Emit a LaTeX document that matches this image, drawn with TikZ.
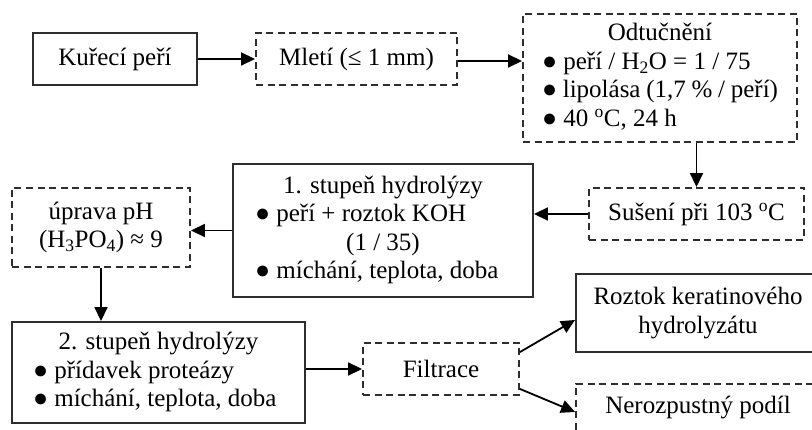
\documentclass[tikz,border=0pt]{standalone}
\usepackage{fontspec}
\setmainfont{Liberation Serif}
\usetikzlibrary{arrows.meta}
\definecolor{boxgray}{HTML}{2E2E2E}
\newcommand\fs{\fontsize{25}{28.5}\selectfont}
\begin{document}
\begin{tikzpicture}[x=1pt,y=-1pt,
  box/.style={draw=boxgray, line width=1.9pt, inner sep=0pt, align=center, font=\fs},
  dbox/.style={box, dash pattern=on 7pt off 4.5pt},
  arr/.style={line width=1.8pt, -{Triangle[length=14pt,width=13pt]}},
]
\useasboundingbox (0,0) rectangle (812,430);
\clip (0,0) rectangle (812,430);
\node[box, minimum width=164pt, minimum height=52pt] (kur) at (115,59) {Kuřecí peří};
\node[dbox, minimum width=201pt, minimum height=52pt] (mle) at (356.5,59) {Mletí (≤ 1 mm)};
\node[dbox, minimum width=274pt, minimum height=128pt] (odt) at (660,78) {\begin{tabular}{@{}p{236pt}@{}}\multicolumn{1}{@{}c@{}}{Odtučnění}\\ ● peří / H\textsubscript{2}O = 1 / 75\\ ● lipolása (1,7 \% / peří)\\ ● 40 \textsuperscript{o}C, 24 h\end{tabular}};
\node[dbox, minimum width=215pt, minimum height=52pt] (sus) at (696.5,214) {Sušení při 103 \textsuperscript{o}C};
\node[box, minimum width=300pt, minimum height=133pt] (h1) at (383,230.5) {\begin{tabular}{@{}p{256pt}@{}}\multicolumn{1}{@{}c@{}}{1. stupeň hydrolýzy}\\ ● peří + roztok KOH\\ \multicolumn{1}{@{}c@{}}{(1 / 35)}\\ ● míchání, teplota, doba\end{tabular}};
\node[dbox, minimum width=178pt, minimum height=79pt] (ph) at (101,227.5) {úprava pH\\(H\textsubscript{3}PO\textsubscript{4}) ≈ 9};
\node[box, minimum width=293pt, minimum height=101pt] (h2) at (158.5,372.5) {\begin{tabular}{@{}p{251pt}@{}}\multicolumn{1}{@{}c@{}}{2. stupeň hydrolýzy}\\ ● přídavek proteázy\\ ● míchání, teplota, doba\end{tabular}};
\node[dbox, minimum width=156pt, minimum height=52pt] (fil) at (441,369) {Filtrace};
\node[box, minimum width=244pt, minimum height=78pt] (roz) at (698,313) {Roztok keratinového\\hydrolyzátu};
\node[dbox, minimum width=244pt, minimum height=48pt] (ner) at (698,408) {Nerozpustný podíl};
\draw[arr] (kur.east) -- (mle.west);
\draw[arr] ([yshift=-2pt]mle.east) -- ([yshift=-2pt]mle.east -| odt.west);
\draw[arr] (odt.south -| sus.north) -- (sus.north);
\draw[arr] (sus.west) -- (sus.west -| h1.east);
\draw[arr] (h1.west) -- (h1.west -| ph.east);
\draw[arr] (ph.south) -- (ph.south |- h2.north);
\draw[arr] (fil.west -| h2.east) -- (fil.west);
\draw[arr] ([yshift=-10pt]fil.north east) -- ([yshift=-7pt]roz.west);
\draw[arr] ([yshift=7pt]fil.south east) -- ([yshift=-4pt]ner.west);
\end{tikzpicture}
\end{document}
